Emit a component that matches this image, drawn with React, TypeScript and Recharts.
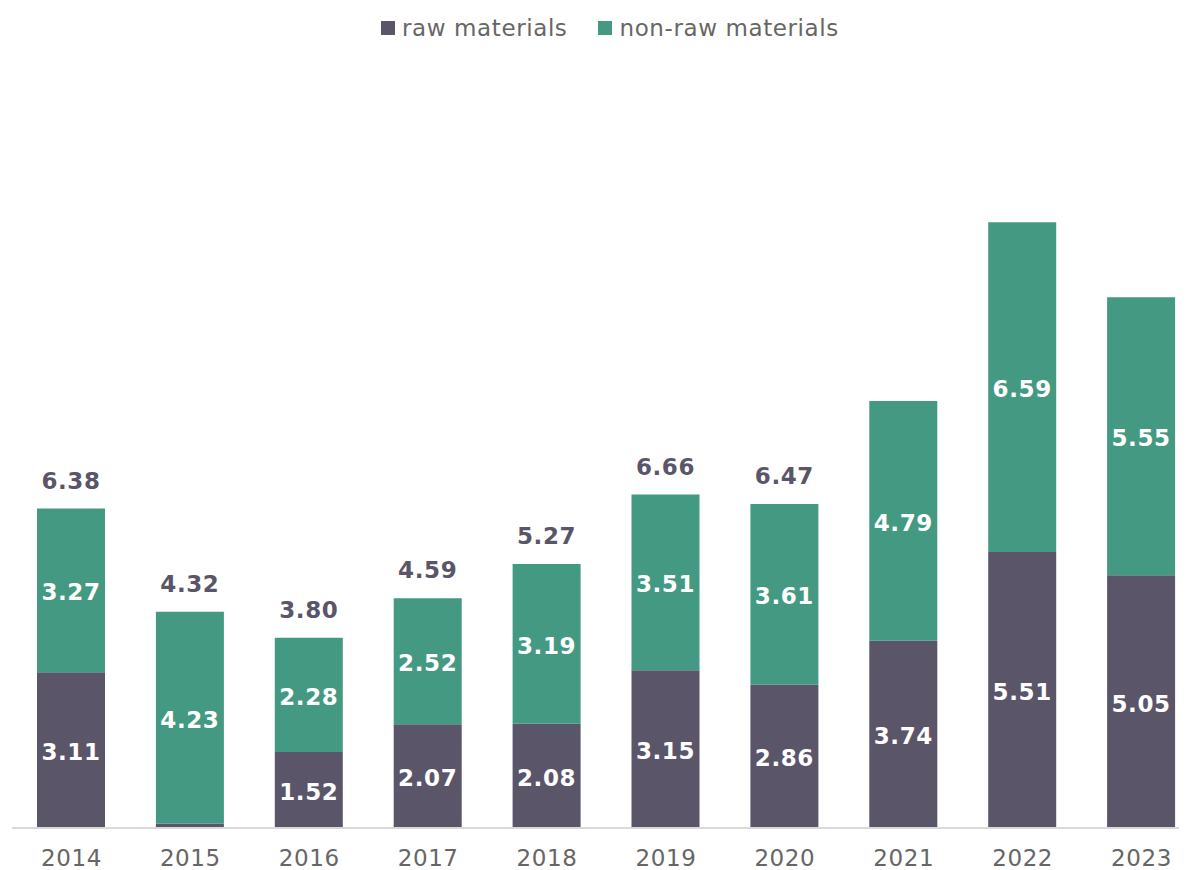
import React from "react";
import { BarChart, Bar, XAxis, YAxis, LabelList } from "recharts";

const years = ["2014", "2015", "2016", "2017", "2018", "2019", "2020", "2021", "2022", "2023"];
const rawMaterials = [3.11, 0.09, 1.52, 2.07, 2.08, 3.15, 2.86, 3.74, 5.51, 5.05];
const nonRawMaterials = [3.27, 4.23, 2.28, 2.52, 3.19, 3.51, 3.61, 4.79, 6.59, 5.55];
const totalLabels: (string | null)[] = ["6.38", "4.32", "3.80", "4.59", "5.27", "6.66", "6.47", null, null, null];
const rawLabels: (string | null)[] = ["3.11", null, "1.52", "2.07", "2.08", "3.15", "2.86", "3.74", "5.51", "5.05"];
const nonRawLabels: (string | null)[] = ["3.27", "4.23", "2.28", "2.52", "3.19", "3.51", "3.61", "4.79", "6.59", "5.55"];

const RAW_COLOR = "#5a5569";
const GREEN_COLOR = "#449983";
const TEXT_GRAY = "#666666";
const FONT = "'DejaVu Sans', Verdana, sans-serif";

const data = years.map((y, i) => ({
  year: y,
  raw: rawMaterials[i],
  nonRaw: nonRawMaterials[i],
}));

const makeInner = (labels: (string | null)[]) => (props: any) => {
  const { x, y, width, height, index } = props;
  const t = labels[index];
  if (!t) return null;
  return (
    <text
      x={x + width / 2}
      y={y + height / 2 + 2}
      textAnchor="middle"
      dominantBaseline="central"
      fill="#ffffff"
      fontFamily={FONT}
      fontWeight="bold"
      fontSize={23}
      letterSpacing={0.6}
    >
      {t}
    </text>
  );
};

const renderTotal = (props: any) => {
  const { x, y, width, index } = props;
  const t = totalLabels[index];
  if (!t) return null;
  return (
    <text
      x={x + width / 2}
      y={y - 20}
      textAnchor="middle"
      fill={RAW_COLOR}
      fontFamily={FONT}
      fontWeight="bold"
      fontSize={23}
      letterSpacing={0.6}
    >
      {t}
    </text>
  );
};

const LegendItem = ({ color, label }: { color: string; label: string }) => (
  <span style={{ display: "inline-flex", alignItems: "center", marginRight: 31 }}>
    <span style={{ display: "inline-block", width: 14, height: 14, background: color, marginRight: 7 }} />
    <span>{label}</span>
  </span>
);

export default function App() {
  return (
    <div style={{ position: "relative", width: 1179, height: 862, overflow: "hidden", background: "#fff" }}>
      <div
        style={{
          position: "absolute",
          top: 4,
          left: 373,
          fontFamily: FONT,
          fontSize: 23,
          color: TEXT_GRAY,
          letterSpacing: 0.6,
          whiteSpace: "nowrap",
          zIndex: 2,
          lineHeight: "30px",
        }}
      >
        <LegendItem color={RAW_COLOR} label="raw materials" />
        <LegendItem color={GREEN_COLOR} label="non-raw materials" />
      </div>
      <BarChart
        width={1193}
        height={862}
        data={data}
        margin={{ top: 119, right: 0, bottom: 2, left: 4 }}
        barSize={68}
      >
        <YAxis hide domain={[0, 14]} />
        <XAxis
          dataKey="year"
          height={40}
          tickLine={false}
          axisLine={{ stroke: "#d9d9d9", strokeWidth: 2 }}
          tick={{ fill: TEXT_GRAY, fontSize: 23, fontFamily: FONT, letterSpacing: 0.6 }}
          tickMargin={16}
          interval={0}
        />
        <Bar dataKey="raw" stackId="a" fill={RAW_COLOR} isAnimationActive={false}>
          <LabelList dataKey="raw" content={makeInner(rawLabels)} />
        </Bar>
        <Bar dataKey="nonRaw" stackId="a" fill={GREEN_COLOR} isAnimationActive={false}>
          <LabelList dataKey="nonRaw" content={makeInner(nonRawLabels)} />
          <LabelList dataKey="nonRaw" content={renderTotal} />
        </Bar>
      </BarChart>
    </div>
  );
}
